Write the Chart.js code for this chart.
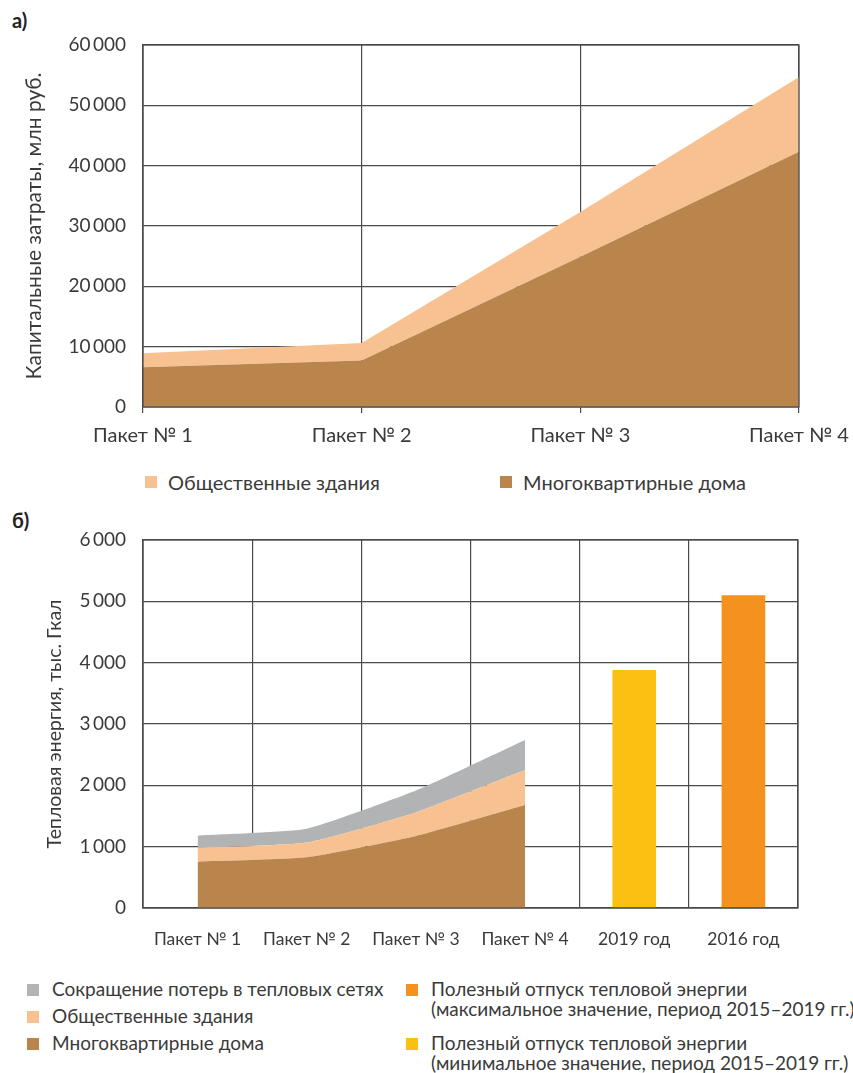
<!DOCTYPE html>
<html lang="ru">
<head>
    <meta charset="UTF-8">
    <title>Капитальные затраты и тепловая энергия</title>
    <script src="https://cdn.jsdelivr.net/npm/chart.js"></script>
    <style>
        body { margin: 0; background: #fff; font-family: Lato, "Open Sans", sans-serif; color: #3a3a3a; }
        .page { position: relative; width: 853px; height: 1073px; overflow: hidden; }
        .box { position: absolute; left: 0; width: 853px; }
        .tag { position: absolute; left: 12px; font-weight: bold; font-size: 20px; color: #222; }
        .leg { position: absolute; font-size: 20px; line-height: 22px; white-space: nowrap; }
        .leg i { position: absolute; left: -23px; top: 5px; width: 12px; height: 12px; }
        .small { font-size: 19px; line-height: 20px; }
        .small i { top: 5px; left: -25px; }
    </style>
</head>
<body>
<div class="page">
    <div class="tag" style="top:8px">а)</div>
    <div class="box" style="top:0;height:460px"><canvas id="costChart"></canvas></div>
    <div class="leg" style="left:168px;top:471px"><i style="background:#F8C191"></i>Общественные здания</div>
    <div class="leg" style="left:523px;top:471px"><i style="background:#BA854D"></i>Многоквартирные дома</div>

    <div class="tag" style="top:508px">б)</div>
    <div class="box" style="top:500px;height:470px"><canvas id="heatChart"></canvas></div>
    <div class="leg small" style="left:52px;top:979px"><i style="background:#B2B3B5"></i>Сокращение потерь в тепловых сетях</div>
    <div class="leg small" style="left:52px;top:1006px"><i style="background:#F8C191"></i>Общественные здания</div>
    <div class="leg small" style="left:52px;top:1033px"><i style="background:#BA854D"></i>Многоквартирные дома</div>
    <div class="leg small" style="left:431px;top:979px"><i style="background:#F5921F"></i>Полезный отпуск тепловой энергии<br>(максимальное значение, период 2015–2019 гг.)</div>
    <div class="leg small" style="left:431px;top:1033px"><i style="background:#FBC012"></i>Полезный отпуск тепловой энергии<br>(минимальное значение, период 2015–2019 гг.)</div>
</div>
<script>
    // а) капитальные затраты, млн руб.
    const costLabels = ['Пакет № 1', 'Пакет № 2', 'Пакет № 3', 'Пакет № 4'];
    const costFlats = [6600, 7700, 24900, 42300];
    const costPublic = [2300, 2900, 7400, 12400];

    // б) тепловая энергия, тыс. Гкал
    const heatLabels = ['Пакет № 1', 'Пакет № 2', 'Пакет № 3', 'Пакет № 4', '2019 год', '2016 год'];
    const heatFlats = [755, 826, 1174, 1679, null, null];
    const heatPublic = [220, 240, 385, 570, null, null];
    const heatLosses = [205, 225, 355, 490, null, null];
    const heatMin = [null, null, null, null, 3880, null];
    const heatMax = [null, null, null, null, null, 5100];

    const gridColor = '#4a4a4a';
    const textColor = '#3a3a3a';
    Chart.defaults.font.family = 'Lato, "Open Sans", sans-serif';
    Chart.defaults.color = textColor;
    Chart.defaults.animation = false;

    const fmt = v => v === 0 ? '0' : String(v).replace(/\B(?=(\d{3})+(?!\d))/g, '\u2009');

    function area(label, data, color, fill, tension) {
        return { type: 'line', label, data, backgroundColor: color, borderWidth: 0, pointRadius: 0, fill, tension };
    }

    const frame = {
        id: 'frame',
        afterDraw(c) {
            const a = c.chartArea, ctx = c.ctx;
            ctx.save();
            ctx.strokeStyle = gridColor; ctx.lineWidth = 1.2;
            ctx.strokeRect(a.left, a.top, a.right - a.left, a.bottom - a.top);
            ctx.restore();
        }
    };

    new Chart(document.getElementById('costChart'), {
        type: 'line',
        data: {
            labels: costLabels,
            datasets: [
                area('Многоквартирные дома', costFlats, '#BA854D', 'origin', 0),
                area('Общественные здания', costPublic, '#F8C191', '-1', 0)
            ]
        },
        options: {
            responsive: true,
            maintainAspectRatio: false,
            layout: { padding: { top: 45, right: 54, left: 0, bottom: 0 } },
            plugins: { legend: { display: false }, tooltip: { enabled: false } },
            scales: {
                x: {
                    offset: false,
                    grid: { color: gridColor, lineWidth: 1.2, tickLength: 6 },
                    border: { color: gridColor, width: 1.2 },
                    ticks: { font: { size: 20 }, padding: 11, maxRotation: 0 },
                    afterFit: s => { s.height = 53; s.paddingLeft = 0; s.paddingRight = 0; }
                },
                y: {
                    stacked: true,
                    min: 0, max: 60000,
                    grid: { color: gridColor, lineWidth: 1.2, drawTicks: false },
                    border: { color: gridColor, width: 1.2 },
                    ticks: { stepSize: 10000, font: { size: 19 }, padding: 17, callback: fmt },
                    title: { display: true, text: 'Капитальные затраты, млн руб.', font: { size: 21 }, padding: { top: 22 } },
                    afterFit: s => { s.width = 143; }
                }
            }
        },
        plugins: [frame]
    });

    new Chart(document.getElementById('heatChart'), {
        type: 'bar',
        data: {
            labels: heatLabels,
            datasets: [
                area('Многоквартирные дома', heatFlats, '#BA854D', 'origin', 0.15),
                area('Общественные здания', heatPublic, '#F8C191', '-1', 0.15),
                area('Сокращение потерь в тепловых сетях', heatLosses, '#B2B3B5', '-1', 0.15),
                { label: 'Полезный отпуск (мин.)', data: heatMin, backgroundColor: '#FBC012', grouped: false, stack: 'min', barPercentage: 0.4, categoryPercentage: 1 },
                { label: 'Полезный отпуск (макс.)', data: heatMax, backgroundColor: '#F5921F', grouped: false, stack: 'max', barPercentage: 0.4, categoryPercentage: 1 }
            ]
        },
        options: {
            responsive: true,
            maintainAspectRatio: false,
            layout: { padding: { top: 40, right: 55, left: 0, bottom: 0 } },
            plugins: { legend: { display: false }, tooltip: { enabled: false } },
            scales: {
                x: {
                    offset: true,
                    grid: { color: gridColor, lineWidth: 1.2, offset: true, drawTicks: false },
                    border: { color: gridColor, width: 1.2 },
                    ticks: { font: { size: 17.5 }, padding: 21, maxRotation: 0 },
                    afterFit: s => { s.height = 62; s.paddingLeft = 0; s.paddingRight = 0; }
                },
                y: {
                    stacked: true,
                    min: 0, max: 6000,
                    grid: { color: gridColor, lineWidth: 1.2, drawTicks: false },
                    border: { color: gridColor, width: 1.2 },
                    ticks: { stepSize: 1000, font: { size: 19 }, padding: 17, callback: fmt },
                    title: { display: true, text: 'Тепловая энергия, тыс. Гкал', font: { size: 19.5 }, padding: { top: 43 } },
                    afterFit: s => { s.width = 143; }
                }
            }
        },
        plugins: [frame]
    });
</script>
</body>
</html>
